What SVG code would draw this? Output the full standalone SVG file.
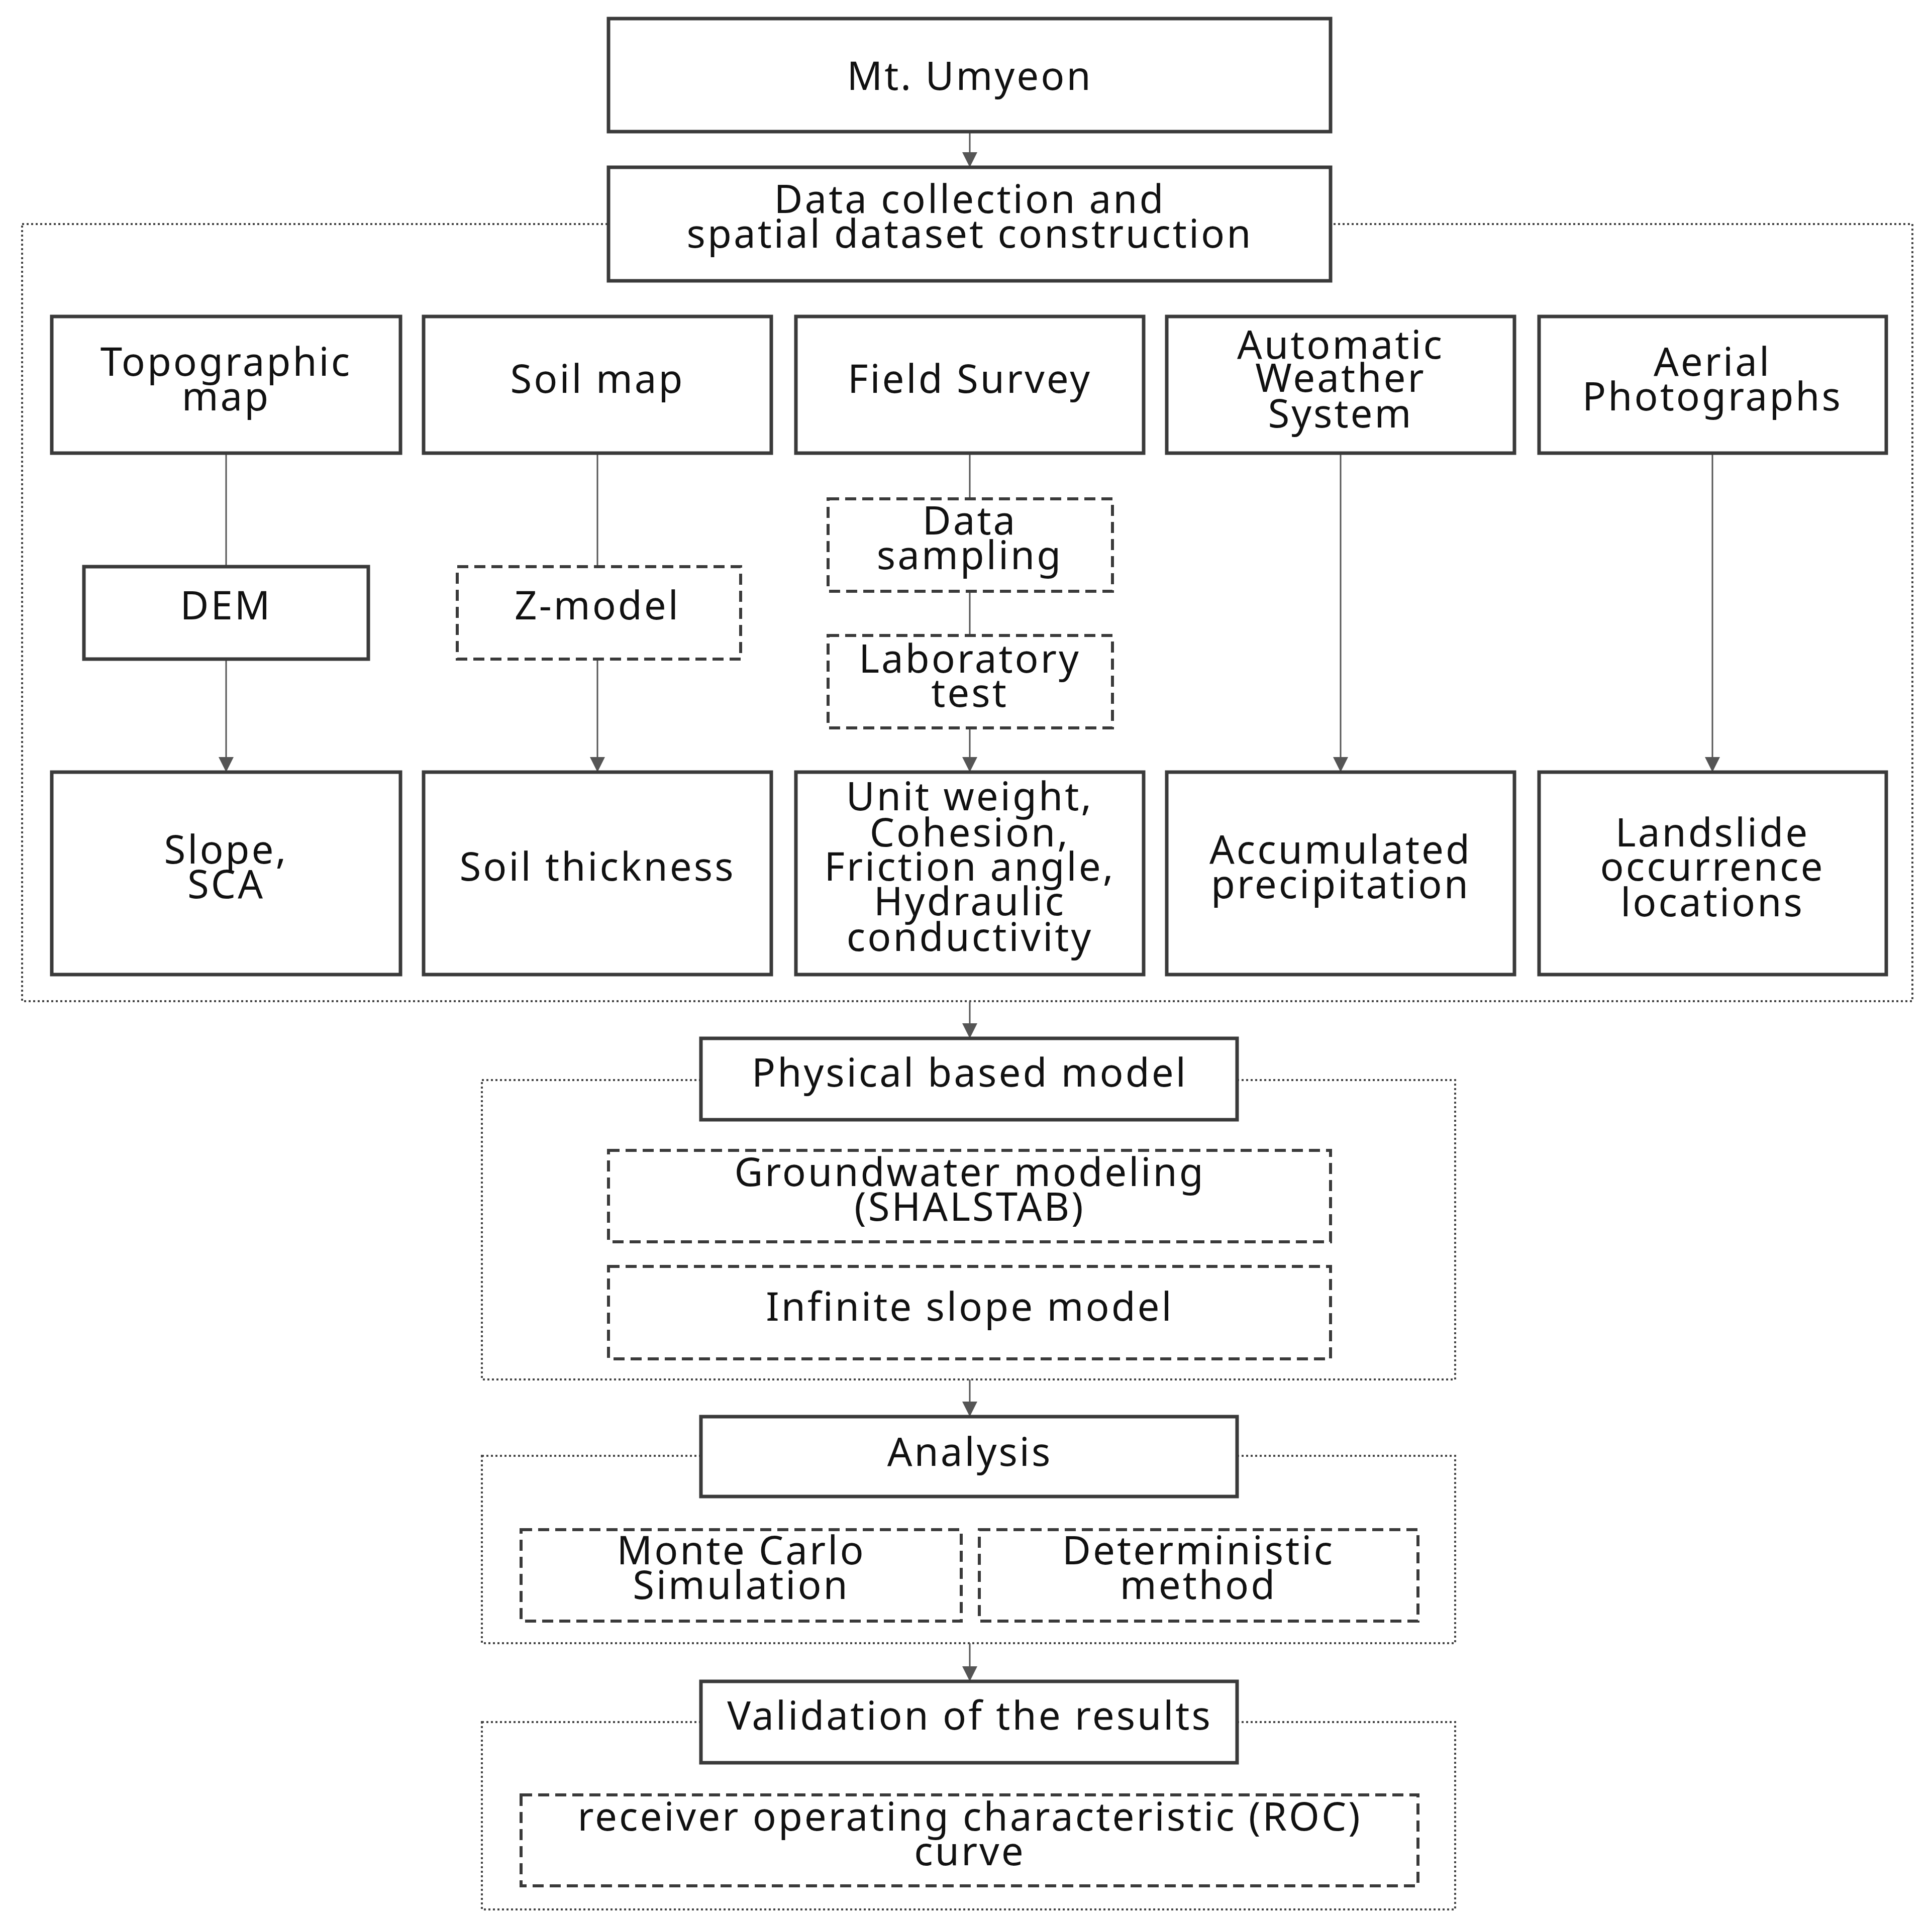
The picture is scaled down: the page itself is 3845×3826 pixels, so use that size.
<svg xmlns="http://www.w3.org/2000/svg" width="3845" height="3826" viewBox="0 0 3845 3826">
<style>
text{font-family:"Noto Sans","Open Sans",sans-serif;font-size:78px;letter-spacing:4px;fill:#111;text-anchor:middle}
.b{fill:#fff;stroke:#3a3a3a;stroke-width:7}
.d{fill:#fff;stroke:#3a3a3a;stroke-width:6;stroke-dasharray:22 12}
.g{fill:none;stroke:#444;stroke-width:4;stroke-dasharray:4 5}
.c{stroke:#555;stroke-width:3;fill:none}
</style>
<defs><marker id="ar2" viewBox="0 0 10 10" refX="10" refY="5" markerWidth="30" markerHeight="30" markerUnits="userSpaceOnUse" orient="auto"><path d="M0,0L10,5L0,10z" fill="#555"/></marker></defs>
<rect width="3845" height="3826" fill="#fff"/>
<g id="groups">
<rect class="g" x="44" y="446" width="3762" height="1547"/>
<rect class="g" x="959" y="2150" width="1937" height="596"/>
<rect class="g" x="959" y="2898" width="1937" height="373"/>
<rect class="g" x="959" y="3428" width="1937" height="373"/>
</g>
<g id="connectors">
<line class="c" x1="1930" y1="262" x2="1930" y2="333" marker-end="url(#ar2)"/>
<line class="c" x1="450" y1="902" x2="450" y2="1128"/>
<line class="c" x1="450" y1="1312" x2="450" y2="1537" marker-end="url(#ar2)"/>
<line class="c" x1="1189" y1="902" x2="1189" y2="1128"/>
<line class="c" x1="1189" y1="1312" x2="1189" y2="1537" marker-end="url(#ar2)"/>
<line class="c" x1="1930" y1="902" x2="1930" y2="993"/>
<line class="c" x1="1930" y1="1177" x2="1930" y2="1265"/>
<line class="c" x1="1930" y1="1449" x2="1930" y2="1537" marker-end="url(#ar2)"/>
<line class="c" x1="2668" y1="902" x2="2668" y2="1537" marker-end="url(#ar2)"/>
<line class="c" x1="3408" y1="902" x2="3408" y2="1537" marker-end="url(#ar2)"/>
<line class="c" x1="1930" y1="1993" x2="1930" y2="2067" marker-end="url(#ar2)"/>
<line class="c" x1="1930" y1="2746" x2="1930" y2="2820" marker-end="url(#ar2)"/>
<line class="c" x1="1930" y1="3271" x2="1930" y2="3347" marker-end="url(#ar2)"/>
</g>
<g id="mt"><rect class="b" x="1211" y="37" width="1437" height="225"/><text x="1930" y="179">Mt. Umyeon</text></g>
<g id="data"><rect class="b" x="1211" y="333" width="1437" height="226"/><text x="1930" y="424">Data collection  and</text><text x="1930" y="493">spatial dataset construction</text></g>
<g id="topo"><rect class="b" x="103" y="630" width="694" height="272"/><text x="450" y="748">Topographic</text><text x="450" y="817">map</text></g>
<g id="soilmap"><rect class="b" x="843" y="630" width="692" height="272"/><text x="1189" y="782">Soil map</text></g>
<g id="field"><rect class="b" x="1584" y="630" width="692" height="272"/><text x="1930" y="782">Field Survey</text></g>
<g id="aws"><rect class="b" x="2322" y="630" width="692" height="272"/><text x="2668" y="714">Automatic</text><text x="2668" y="780">Weather</text><text x="2668" y="851">System</text></g>
<g id="aerial"><rect class="b" x="3063" y="630" width="691" height="272"/><text x="3408" y="748">Aerial</text><text x="3408" y="817">Photographs</text></g>
<g id="dem"><rect class="b" x="167" y="1128" width="566" height="184"/><text x="450" y="1233">DEM</text></g>
<g id="zmodel"><rect class="d" x="910" y="1128" width="564" height="184"/><text x="1189" y="1233">Z-model</text></g>
<g id="sampling"><rect class="d" x="1648" y="993" width="566" height="184"/><text x="1930" y="1064">Data</text><text x="1930" y="1133">sampling</text></g>
<g id="lab"><rect class="d" x="1648" y="1265" width="566" height="184"/><text x="1930" y="1339">Laboratory</text><text x="1930" y="1407">test</text></g>
<g id="slope"><rect class="b" x="103" y="1537" width="694" height="403"/><text x="450" y="1719">Slope,</text><text x="450" y="1788">SCA</text></g>
<g id="thick"><rect class="b" x="843" y="1537" width="692" height="403"/><text x="1189" y="1753">Soil thickness</text></g>
<g id="params"><rect class="b" x="1584" y="1537" width="692" height="403"/><text x="1930" y="1613">Unit weight,</text><text x="1930" y="1685">Cohesion,</text><text x="1930" y="1753">Friction angle,</text><text x="1930" y="1822">Hydraulic</text><text x="1930" y="1893">conductivity</text></g>
<g id="precip"><rect class="b" x="2322" y="1537" width="692" height="403"/><text x="2668" y="1719">Accumulated</text><text x="2668" y="1788">precipitation</text></g>
<g id="landslide"><rect class="b" x="3063" y="1537" width="691" height="403"/><text x="3408" y="1685">Landslide</text><text x="3408" y="1753">occurrence</text><text x="3408" y="1824">locations</text></g>
<g id="physical"><rect class="b" x="1395" y="2067" width="1067" height="162"/><text x="1930" y="2163">Physical based model</text></g>
<g id="gw"><rect class="d" x="1211" y="2290" width="1437" height="182"/><text x="1930" y="2361">Groundwater modeling</text><text x="1930" y="2430">(SHALSTAB)</text></g>
<g id="inf"><rect class="d" x="1211" y="2521" width="1437" height="184"/><text x="1930" y="2629">Infinite slope model</text></g>
<g id="analysis"><rect class="b" x="1395" y="2820" width="1067" height="159"/><text x="1930" y="2918">Analysis</text></g>
<g id="mc"><rect class="d" x="1037" y="3045" width="876" height="182"/><text x="1475" y="3114">Monte Carlo</text><text x="1475" y="3183">Simulation</text></g>
<g id="det"><rect class="d" x="1949" y="3045" width="873" height="182"/><text x="2385" y="3114">Deterministic</text><text x="2385" y="3183">method</text></g>
<g id="valid"><rect class="b" x="1395" y="3347" width="1067" height="162"/><text x="1930" y="3443">Validation of the results</text></g>
<g id="roc"><rect class="d" x="1037" y="3573" width="1785" height="181"/><text x="1930" y="3644">receiver operating characteristic (ROC)</text><text x="1930" y="3713">curve</text></g>
</svg>
